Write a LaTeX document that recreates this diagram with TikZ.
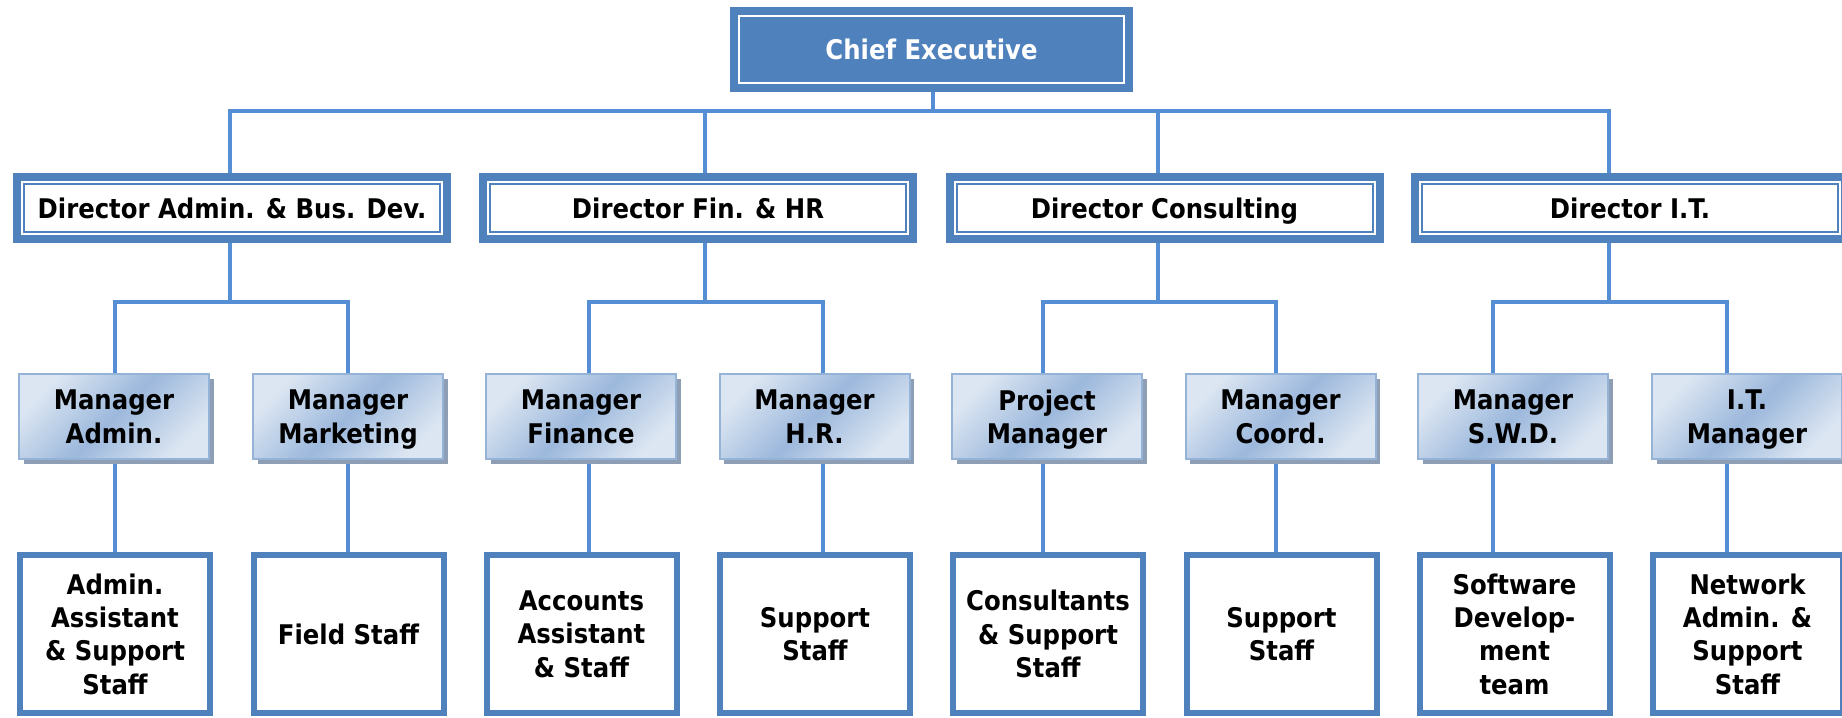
\documentclass[tikz,border=0pt]{standalone}
\usepackage{fontspec}
\setmainfont{DejaVu Sans Condensed}
\usepackage{tikz}
\usetikzlibrary{positioning, shadows, backgrounds}

\definecolor{boxblue}{HTML}{4F81BD}
\definecolor{linkblue}{HTML}{558ED5}
\definecolor{mgrlight}{HTML}{DCE6F2}
\definecolor{mgrdark}{HTML}{9CB8DC}
\definecolor{mgrborder}{HTML}{95B3D7}
\definecolor{shadowgray}{HTML}{8E9FB5}

\begin{document}
\begin{tikzpicture}[x=0.1mm, y=-0.1mm,
    every node/.style={font=\fontsize{7.7}{9.5}\selectfont\bfseries, align=center, inner sep=0pt, text depth=0pt},
    chief/.style={fill=boxblue, text=white, minimum width=40.3mm, minimum height=8.5mm},
    director/.style={draw=boxblue, line width=0.8mm, fill=white, minimum width=43mm, minimum height=6.2mm},
    manager/.style={draw=mgrborder, line width=0.2mm, top color=mgrlight, bottom color=mgrlight,
        middle color=mgrdark, shading angle=45, minimum width=19mm, minimum height=8.5mm,
        drop shadow={shadow xshift=0.45mm, shadow yshift=-0.5mm, fill=shadowgray, opacity=1}},
    staff/.style={draw=boxblue, line width=0.6mm, fill=white, minimum width=19mm, minimum height=15.8mm},
    link/.style={draw=linkblue, line width=0.33mm, line cap=rect}]
    \useasboundingbox (0,0) rectangle (1842,717);
    \clip (0,0) rectangle (1842,717);

    % Chief Executive
    \node[chief] (chief) at (931.5,49.5) {Chief Executive};
    \draw[white, line width=0.2mm] ([shift={(1mm,1mm)}]chief.south west) rectangle ([shift={(-1mm,-1mm)}]chief.north east);

    % Directors
    \node[director] (dadm) at (232,208) {Director Admin. \& Bus. Dev.};
    \node[director] (dfin) at (698,208) {Director Fin. \& HR};
    \node[director] (dcon) at (1164.5,208) {Director Consulting};
    \node[director] (dit) at (1630,208) {Director I.T.};
    \draw[boxblue, line width=0.2mm] ([shift={(1.1mm,1.1mm)}]dadm.south west) rectangle ([shift={(-1.1mm,-1.1mm)}]dadm.north east);
    \draw[boxblue, line width=0.2mm] ([shift={(1.1mm,1.1mm)}]dfin.south west) rectangle ([shift={(-1.1mm,-1.1mm)}]dfin.north east);
    \draw[boxblue, line width=0.2mm] ([shift={(1.1mm,1.1mm)}]dcon.south west) rectangle ([shift={(-1.1mm,-1.1mm)}]dcon.north east);
    \draw[boxblue, line width=0.2mm] ([shift={(1.1mm,1.1mm)}]dit.south west) rectangle ([shift={(-1.1mm,-1.1mm)}]dit.north east);

    % Managers
    \node[manager] (madm) at (114,416.5) {Manager\\Admin.};
    \node[manager] (mmkt) at (348,416.5) {Manager\\Marketing};
    \node[manager] (mfin) at (581,416.5) {Manager\\Finance};
    \node[manager] (mhr) at (814.5,416.5) {Manager\\H.R.};
    \node[manager] (mprj) at (1047,416.5) {Project\\Manager};
    \node[manager] (mcrd) at (1280.5,416.5) {Manager\\Coord.};
    \node[manager] (mswd) at (1513,416.5) {Manager\\S.W.D.};
    \node[manager] (mitm) at (1747,416.5) {I.T.\\Manager};

    % Staff
    \node[staff] (sadm) at (115,634) {Admin.\\Assistant\\\& Support\\Staff};
    \node[staff] (smkt) at (348.5,634) {Field Staff};
    \node[staff] (sfin) at (581.5,634) {Accounts\\Assistant\\\& Staff};
    \node[staff] (shr) at (815,634) {Support\\Staff};
    \node[staff] (sprj) at (1048,634) {Consultants\\\& Support\\Staff};
    \node[staff] (scrd) at (1281.5,634) {Support\\Staff};
    \node[staff] (sswd) at (1514.5,634) {Software\\Develop-\\ment\\team};
    \node[staff] (sitm) at (1747.5,634) {Network\\Admin. \&\\Support\\Staff};

    \begin{scope}[on background layer]
        % Chief to directors
        \coordinate (bus) at (933,111);
        \coordinate (j1) at (230,111);
        \coordinate (j2) at (705,111);
        \coordinate (j3) at (1158,111);
        \coordinate (j4) at (1609,111);
        \draw[link] (chief.south -| bus) -- (bus);
        \draw[link] (j1) -- (j4);
        \draw[link] (j1) -- (j1 |- dadm.north);
        \draw[link] (j2) -- (j2 |- dfin.north);
        \draw[link] (j3) -- (j3 |- dcon.north);
        \draw[link] (j4) -- (j4 |- dit.north);

        % Directors to managers
        \coordinate (k1) at (115,302);
        \coordinate (k2) at (348,302);
        \coordinate (k3) at (589,302);
        \coordinate (k4) at (823,302);
        \coordinate (k5) at (1043,302);
        \coordinate (k6) at (1276,302);
        \coordinate (k7) at (1493,302);
        \coordinate (k8) at (1727,302);
        \draw[link] (dadm.south -| j1) -- (j1 |- k1);
        \draw[link] (dfin.south -| j2) -- (j2 |- k3);
        \draw[link] (dcon.south -| j3) -- (j3 |- k5);
        \draw[link] (dit.south -| j4) -- (j4 |- k7);
        \draw[link] (k1) -- (k2);
        \draw[link] (k3) -- (k4);
        \draw[link] (k5) -- (k6);
        \draw[link] (k7) -- (k8);
        \draw[link] (k1) -- (madm.north -| k1);
        \draw[link] (k2) -- (mmkt.north -| k2);
        \draw[link] (k3) -- (mfin.north -| k3);
        \draw[link] (k4) -- (mhr.north -| k4);
        \draw[link] (k5) -- (mprj.north -| k5);
        \draw[link] (k6) -- (mcrd.north -| k6);
        \draw[link] (k7) -- (mswd.north -| k7);
        \draw[link] (k8) -- (mitm.north -| k8);

        % Managers to staff
        \draw[link] (madm.south -| k1) -- (sadm.north -| k1);
        \draw[link] (mmkt.south -| k2) -- (smkt.north -| k2);
        \draw[link] (mfin.south -| k3) -- (sfin.north -| k3);
        \draw[link] (mhr.south -| k4) -- (shr.north -| k4);
        \draw[link] (mprj.south -| k5) -- (sprj.north -| k5);
        \draw[link] (mcrd.south -| k6) -- (scrd.north -| k6);
        \draw[link] (mswd.south -| k7) -- (sswd.north -| k7);
        \draw[link] (mitm.south -| k8) -- (sitm.north -| k8);
    \end{scope}
\end{tikzpicture}
\end{document}
